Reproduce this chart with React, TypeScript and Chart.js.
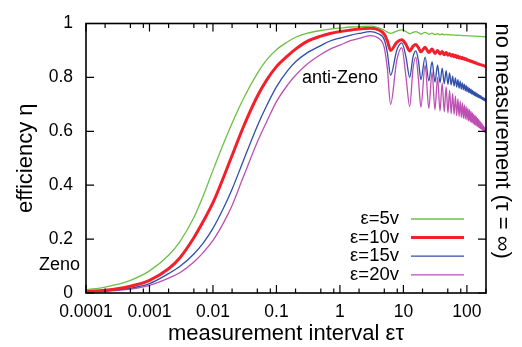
import { useEffect, useRef } from "react";
import { Chart, registerables } from "chart.js";

Chart.register(...registerables);

const FONT = "'Liberation Sans', Arial, Helvetica, sans-serif";

// measurement interval ετ (shared x values)
const tau = [
  0.0001, 0.0002, 0.0005, 0.001, 0.002, 0.003, 0.005, 0.007, 0.01, 0.015, 0.02, 0.03, 0.05, 0.07, 0.1, 0.15, 0.2, 0.3, 0.5, 0.7, 1, 1.5, 2, 3, 4, 5, 5.6,
  6.28, 7.85, 9.42, 11.0, 12.57, 14.14, 15.71, 17.28, 18.85,
  21.99, 25.13,
  28.27, 31.42,
  34.56, 37.7,
  40.84, 43.98,
  47.12, 50.27,
  53.41, 56.55,
  59.69, 62.83,
  65.97, 69.12,
  72.26, 75.4,
  78.54, 81.68,
  84.82, 87.96,
  91.11, 94.25,
  97.39, 100.53,
  103.67, 106.81,
  109.96, 113.1,
  116.24, 119.38,
  122.52, 125.66,
  128.81, 131.95,
  135.09, 138.23,
  141.37, 144.51,
  147.65, 150.8,
  153.94, 157.08,
  160.22, 163.36,
  166.5, 169.65,
  172.79, 175.93,
  179.07, 182.21,
  185.35, 188.5,
  191.64, 194.78,
  197.92,
  200,
];

// efficiency η, ε = 5v
const effEps5 = [
  0.012, 0.022, 0.047, 0.082, 0.14, 0.19, 0.28, 0.36, 0.455, 0.56, 0.63, 0.72, 0.815, 0.865, 0.903, 0.932, 0.949, 0.963, 0.974, 0.979, 0.983, 0.987, 0.988, 0.99, 0.985, 0.975, 0.968,
  0.963, 0.972, 0.976, 0.97, 0.962, 0.967, 0.97, 0.966, 0.961,
  0.967, 0.96,
  0.964, 0.959,
  0.962, 0.958,
  0.961, 0.958,
  0.96, 0.958,
  0.959, 0.957,
  0.958, 0.957,
  0.957, 0.956,
  0.957, 0.956,
  0.956, 0.956,
  0.955, 0.955,
  0.955, 0.955,
  0.955, 0.954,
  0.954, 0.954,
  0.954, 0.954,
  0.954, 0.953,
  0.953, 0.953,
  0.953, 0.953,
  0.953, 0.953,
  0.953, 0.952,
  0.952, 0.952,
  0.952, 0.952,
  0.952, 0.952,
  0.952, 0.951,
  0.951, 0.951,
  0.951, 0.951,
  0.951, 0.951,
  0.95, 0.95,
  0.95,
  0.95,
];

// efficiency η, ε = 10v
const effEps10 = [
  0.006, 0.01, 0.025, 0.047, 0.09, 0.13, 0.205, 0.265, 0.335, 0.435, 0.51, 0.615, 0.73, 0.79, 0.84, 0.88, 0.905, 0.933, 0.953, 0.963, 0.97, 0.976, 0.98, 0.982, 0.977, 0.96, 0.935,
  0.9, 0.93, 0.94, 0.922, 0.898, 0.915, 0.922, 0.91, 0.895,
  0.912, 0.892,
  0.905, 0.889,
  0.9, 0.887,
  0.896, 0.884,
  0.892, 0.882,
  0.888, 0.879,
  0.885, 0.877,
  0.882, 0.874,
  0.879, 0.872,
  0.876, 0.87,
  0.874, 0.868,
  0.871, 0.866,
  0.869, 0.864,
  0.865, 0.862,
  0.863, 0.86,
  0.861, 0.858,
  0.859, 0.856,
  0.857, 0.854,
  0.855, 0.853,
  0.853, 0.851,
  0.851, 0.85,
  0.85, 0.848,
  0.848, 0.847,
  0.847, 0.846,
  0.846, 0.845,
  0.844, 0.844,
  0.843, 0.842,
  0.842, 0.841,
  0.841,
  0.84,
];

// efficiency η, ε = 15v
const effEps15 = [
  0.004, 0.008, 0.018, 0.035, 0.072, 0.098, 0.145, 0.185, 0.24, 0.32, 0.385, 0.49, 0.62, 0.695, 0.765, 0.825, 0.858, 0.89, 0.918, 0.935, 0.946, 0.957, 0.963, 0.97, 0.962, 0.94, 0.89,
  0.808, 0.9, 0.928, 0.874, 0.8, 0.875, 0.898, 0.86, 0.792,
  0.875, 0.787,
  0.858, 0.783,
  0.845, 0.78,
  0.834, 0.777,
  0.825, 0.774,
  0.817, 0.772,
  0.805, 0.768,
  0.798, 0.764,
  0.792, 0.76,
  0.786, 0.757,
  0.78, 0.754,
  0.775, 0.75,
  0.77, 0.747,
  0.765, 0.744,
  0.76, 0.741,
  0.756, 0.738,
  0.752, 0.735,
  0.748, 0.733,
  0.745, 0.73,
  0.742, 0.728,
  0.739, 0.726,
  0.736, 0.724,
  0.733, 0.722,
  0.731, 0.72,
  0.728, 0.718,
  0.726, 0.716,
  0.724, 0.714,
  0.721, 0.712,
  0.719,
  0.716,
];

// efficiency η, ε = 20v
const effEps20 = [
  0.003, 0.006, 0.014, 0.028, 0.055, 0.075, 0.115, 0.15, 0.195, 0.265, 0.325, 0.43, 0.56, 0.635, 0.71, 0.772, 0.808, 0.848, 0.885, 0.905, 0.92, 0.937, 0.945, 0.955, 0.946, 0.91, 0.83,
  0.7, 0.862, 0.91, 0.8, 0.692, 0.83, 0.875, 0.79, 0.69,
  0.845, 0.685,
  0.82, 0.68,
  0.8, 0.675,
  0.78, 0.672,
  0.765, 0.668,
  0.752, 0.665,
  0.74, 0.662,
  0.73, 0.658,
  0.72, 0.655,
  0.712, 0.652,
  0.705, 0.648,
  0.698, 0.645,
  0.692, 0.642,
  0.686, 0.638,
  0.68, 0.635,
  0.674, 0.632,
  0.668, 0.628,
  0.663, 0.625,
  0.658, 0.622,
  0.653, 0.619,
  0.648, 0.616,
  0.643, 0.613,
  0.638, 0.61,
  0.633, 0.607,
  0.628, 0.604,
  0.623, 0.601,
  0.618, 0.598,
  0.614, 0.595,
  0.61,
  0.6,
];

const seriesLabels = ["ε=5v", "ε=10v", "ε=15v", "ε=20v"];
const xTickValues = [0.0001, 0.001, 0.01, 0.1, 1, 10, 100];
const xTickLabels = ["0.0001", "0.001", "0.01", "0.1", "1", "10", "100"];
const xMinorFactors = [2, 5, 8];
const yTickValues = [0, 0.2, 0.4, 0.6, 0.8, 1];
const yTickLabels = ["0", "0.2", "0.4", "0.6", "0.8", "1"];

const lineStyles = [
  { color: "#6cc046", width: 1.3 },
  { color: "#f2202b", width: 3 },
  { color: "#2f4fa8", width: 1.3 },
  { color: "#bd4fb3", width: 1.3 },
];

const gnuplotFrame = {
  id: "gnuplotFrame",
  afterDatasetsDraw(chart: any) {
    const { ctx, chartArea: a, scales } = chart;
    const sx = scales.x;
    const sy = scales.y;
    const major = 8;
    const minor = 4.5;
    ctx.save();
    ctx.strokeStyle = "#000";
    ctx.lineWidth = 1.2;
    ctx.beginPath();
    for (const v of xTickValues) {
      const p = sx.getPixelForValue(v);
      ctx.moveTo(p, a.bottom);
      ctx.lineTo(p, a.bottom - major);
      ctx.moveTo(p, a.top);
      ctx.lineTo(p, a.top + major);
      for (const f of xMinorFactors) {
        const mv = v * f;
        if (mv > sx.max) continue;
        const q = sx.getPixelForValue(mv);
        ctx.moveTo(q, a.bottom);
        ctx.lineTo(q, a.bottom - minor);
        ctx.moveTo(q, a.top);
        ctx.lineTo(q, a.top + minor);
      }
    }
    for (const v of yTickValues) {
      const p = sy.getPixelForValue(v);
      ctx.moveTo(a.left, p);
      ctx.lineTo(a.left + major, p);
      ctx.moveTo(a.right, p);
      ctx.lineTo(a.right - major, p);
    }
    ctx.stroke();
    ctx.lineWidth = 1.6;
    ctx.strokeRect(a.left, a.top, a.right - a.left, a.bottom - a.top);

    // gnuplot-style key inside the plot
    ctx.textBaseline = "middle";
    chart.data.datasets.forEach((ds: any, i: number) => {
      const y = 219 + i * 18.6;
      ctx.font = `18.5px ${FONT}`;
      ctx.textAlign = "right";
      ctx.fillStyle = "#000";
      ctx.fillText(ds.label, 399, y);
      ctx.strokeStyle = ds.borderColor;
      ctx.lineWidth = ds.borderWidth;
      ctx.beginPath();
      ctx.moveTo(411, y);
      ctx.lineTo(464, y);
      ctx.stroke();
    });

    ctx.font = `18px ${FONT}`;
    ctx.fillStyle = "#000";
    ctx.textAlign = "left";
    ctx.fillText("anti-Zeno", 302, 78);
    ctx.textAlign = "right";
    ctx.fillText("Zeno", 80, 265);
    ctx.restore();
  },
};

export default function App() {
  const ref = useRef<HTMLCanvasElement>(null);
  useEffect(() => {
    document.body.style.margin = "0";
    const canvas = ref.current!;
    const series = [effEps5, effEps10, effEps15, effEps20];
    const chart = new Chart(canvas, {
      type: "line",
      data: {
        datasets: series.map((ys, i) => ({
          label: seriesLabels[i],
          data: tau.map((x, j) => ({ x, y: ys[j] })),
          borderColor: lineStyles[i].color,
          backgroundColor: lineStyles[i].color,
          borderWidth: lineStyles[i].width,
          pointRadius: 0,
          fill: false,
          cubicInterpolationMode: "monotone" as const,
        })),
      },
      options: {
        responsive: false,
        animation: false,
        devicePixelRatio: 1,
        layout: { padding: { top: 15, left: 0, right: 0, bottom: 0 } },
        plugins: { legend: { display: false }, tooltip: { enabled: false } },
        scales: {
          x: {
            type: "logarithmic",
            min: 0.0001,
            max: 200,
            grid: { display: false, drawTicks: false },
            border: { display: false },
            afterBuildTicks: (s: any) => {
              s.ticks = xTickValues.map((v) => ({ value: v }));
            },
            afterFit: (s: any) => {
              s.height = 54;
            },
            ticks: {
              autoSkip: false,
              maxRotation: 0,
              padding: 8.5,
              color: "#000",
              font: { size: 17.5, family: FONT },
              callback: (_v: any, i: number) => xTickLabels[i],
            },
            title: {
              display: true,
              text: "measurement interval ετ",
              color: "#000",
              font: { size: 22, family: FONT },
              padding: { top: 0, bottom: 0 },
            },
          },
          y: {
            type: "linear",
            position: "left",
            min: 0,
            max: 1,
            grid: { display: false, drawTicks: false },
            border: { display: false },
            afterBuildTicks: (s: any) => {
              s.ticks = yTickValues.map((v) => ({ value: v }));
            },
            afterFit: (s: any) => {
              s.width = 86;
            },
            ticks: {
              padding: 13,
              color: "#000",
              font: { size: 17.5, family: FONT },
              callback: (_v: any, i: number) => yTickLabels[i],
            },
            title: {
              display: true,
              text: "efficiency η",
              color: "#000",
              font: { size: 22, family: FONT },
              padding: { top: 12.5, bottom: 0 },
            },
          },
          yRight: {
            type: "linear",
            position: "right",
            min: 0,
            max: 1,
            grid: { display: false, drawTicks: false },
            border: { display: false },
            ticks: { display: false },
            afterFit: (s: any) => {
              s.width = 36;
            },
            title: {
              display: true,
              text: "no measurement (τ = ∞)",
              align: "end",
              color: "#000",
              font: { size: 22, family: FONT },
              padding: { top: 7.2, bottom: 0 },
            },
          },
        },
      },
      plugins: [gnuplotFrame],
    });
    return () => chart.destroy();
  }, []);
  return (
    <div style={{ position: "fixed", left: 0, top: 0, width: 522, height: 347 }}>
      <canvas ref={ref} width={522} height={347} />
    </div>
  );
}
